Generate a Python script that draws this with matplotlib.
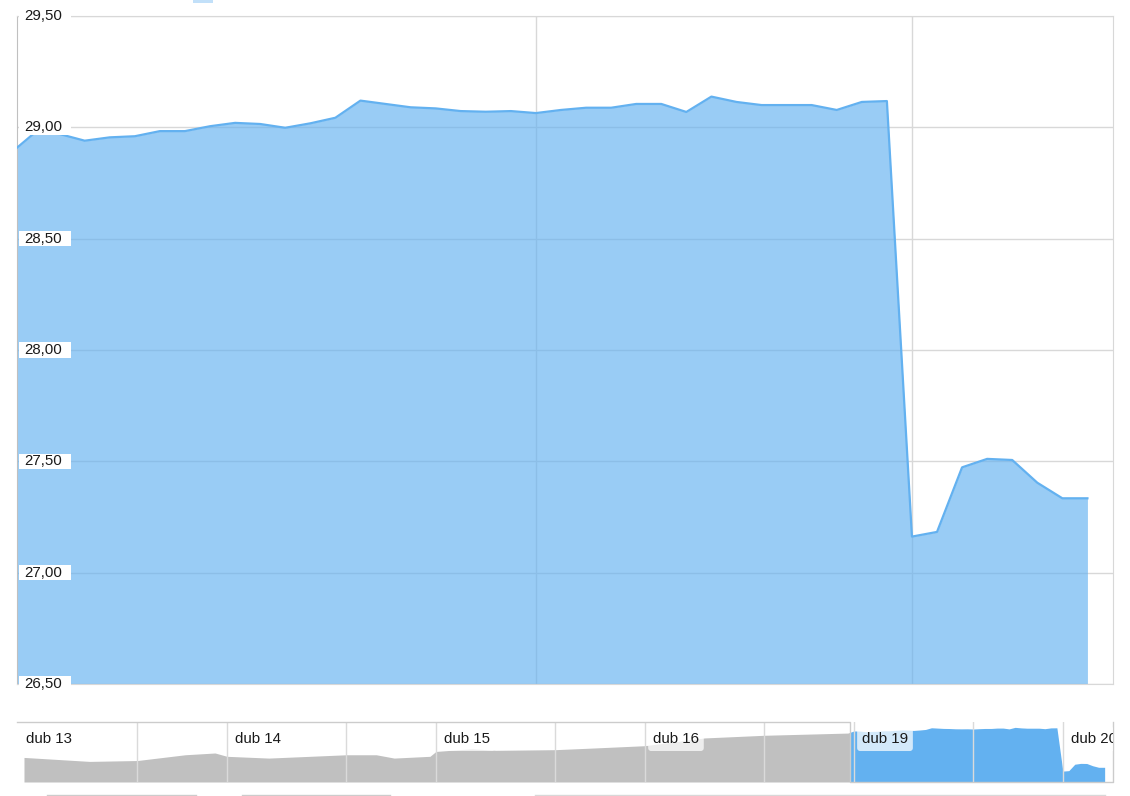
import numpy as np
import matplotlib.pyplot as plt
from matplotlib.patches import Rectangle
from matplotlib.lines import Line2D
from matplotlib.transforms import blended_transform_factory, offset_copy

plt.rcParams['font.family'] = ['Liberation Sans', 'DejaVu Sans']

# zoomed view: last close of dub 16, then dub 19 and dub 20 (one value per step)
prices = [28.88, 28.975, 28.97, 28.94, 28.955, 28.96, 28.983, 28.983, 29.005, 29.02,
          29.015, 28.998, 29.018, 29.043, 29.12, 29.105, 29.09, 29.085, 29.073, 29.07,
          29.073, 29.064, 29.078, 29.088, 29.088, 29.105, 29.105, 29.069, 29.138, 29.114,
          29.10, 29.10, 29.10, 29.078, 29.114, 29.118,
          27.162, 27.183, 27.473, 27.511, 27.506, 27.404, 27.334, 27.334]
yticks = [26.5, 27.0, 27.5, 28.0, 28.5, 29.0, 29.5]

# navigator, earlier days (dub 13 - dub 16), read at these steps
nav_pos = [0, 11, 19, 27, 32, 34, 41, 54, 59, 62, 68, 69, 75, 79, 89, 95, 104, 114, 124]
nav_vals = [27.78, 27.60, 27.64, 27.90, 27.98, 27.83, 27.75, 27.90, 27.90, 27.75,
            27.83, 28.05, 28.17, 28.10, 28.13, 28.20, 28.31, 28.66, 28.78]
day_labels = ["dub 13", "dub 14", "dub 15", "dub 16", "dub 19", "dub 20"]
per_day = 35
offset = 138          # step of the first zoomed value in the navigator

line_c = '#63b1f0'
grid_c = '#d8d8d8'

W, H = 1130, 796
fig = plt.figure(figsize=(W / 100, H / 100), dpi=100)

# ---------------- main chart ----------------
ax = fig.add_axes([17 / W, 1 - 684 / H, 1096 / W, 668 / H])
x = np.arange(len(prices))
ax.fill_between(x, prices, 26.5, color=line_c, alpha=0.65, lw=0, zorder=2)
ax.plot(x, prices, color=line_c, lw=1.6, zorder=3)
ax.set_xlim(0.3, 44.02)
ax.set_ylim(26.5, 29.5)
ax.set_yticks(yticks)
ax.set_xticks([21, 36])
ax.set_yticklabels([])
ax.set_xticklabels([])
ax.tick_params(length=0)
ax.grid(True, color=grid_c, lw=1)
ax.set_axisbelow(True)
for s in ['top', 'right', 'bottom']:
    ax.spines[s].set_color(grid_c)
ax.spines['left'].set_color('#c0c0c0')

tr = blended_transform_factory(ax.transAxes, ax.transData)
for v in yticks:
    ax.add_patch(Rectangle((0.002, v - 0.034), 0.047, 0.068, transform=tr,
                           facecolor='white', edgecolor='none', zorder=4, clip_on=False))
    ax.text(0.0064, v, f"{v:.2f}".replace('.', ','), transform=tr, fontsize=10.8,
            va='center', ha='left', color='#1a1a1a', zorder=5, clip_on=False)

# ---------------- navigator ----------------
nav = fig.add_axes([17 / W, 1 - 782 / H, 1096 / W, 60 / H])
nx = np.array(nav_pos + [offset + i for i in range(len(prices))], dtype=float)
nv = np.array(nav_vals + prices)
xl0, xl1 = -1.17, 182.4
ny0, ny1 = 26.67, 29.38
sel = offset + 0.3
nav.set_xlim(xl0, xl1)
nav.set_ylim(ny0, ny1)
nav.axis('off')

gray = nav.fill_between(nx, nv, ny0, color='#c0c0c0', lw=0, zorder=1)
gray.set_clip_path(Rectangle((xl0, ny0), sel - xl0, ny1 - ny0, transform=nav.transData))
blue = nav.fill_between(nx, nv, ny0, color=line_c, lw=0, zorder=1)
blue.set_clip_path(Rectangle((sel, ny0), xl1 - sel, ny1 - ny0, transform=nav.transData))

days = [per_day * k - 1 for k in range(len(day_labels))]
for d in days[1:]:
    nav.axvline(d, color='#dadada', lw=1, zorder=2)
for d in days[:-1]:
    nav.axvline(d + 20, color='#dadada', lw=1, zorder=2)

nav.plot([xl0, sel, sel, xl1, xl1], [ny1, ny1, ny0, ny0, ny1], color='#cccccc',
         lw=1, zorder=3, clip_on=False)

btr = blended_transform_factory(nav.transData, nav.transAxes)
for d, lbl in zip(days, day_labels):
    t = nav.text(d, 1, lbl, transform=offset_copy(btr, fig, x=5.8, y=-12.4, units='points'),
                 fontsize=10.8, va='center', ha='left', color='#1a1a1a', zorder=4,
                 bbox=dict(boxstyle='round,pad=0.32,rounding_size=0.2', facecolor='white',
                           edgecolor='none', alpha=0.72))
    t.set_clip_on(True)

# legend symbol peeking at the top
fig.add_artist(Rectangle((193 / W, 1 - 2.5 / H), 20 / W, 2.5 / H, transform=fig.transFigure,
                         facecolor='#c2e0f9', edgecolor='none'))

# cut-off controls at the bottom edge
yb = 1 - 794.5 / H
for a, b in [(47, 196), (242, 390)]:
    fig.add_artist(Line2D([a / W, b / W], [yb, yb], transform=fig.transFigure,
                          color='#cccccc', lw=1))
fig.add_artist(Line2D([535 / W, 1105 / W], [yb, yb], transform=fig.transFigure,
                      color='#d8d8d8', lw=1))
fig.add_artist(Rectangle((623 / W, 0), 40 / W, 1.5 / H, transform=fig.transFigure,
                         facecolor='#d0d0d0', edgecolor='none'))

fig.savefig('out.png', dpi=100)
